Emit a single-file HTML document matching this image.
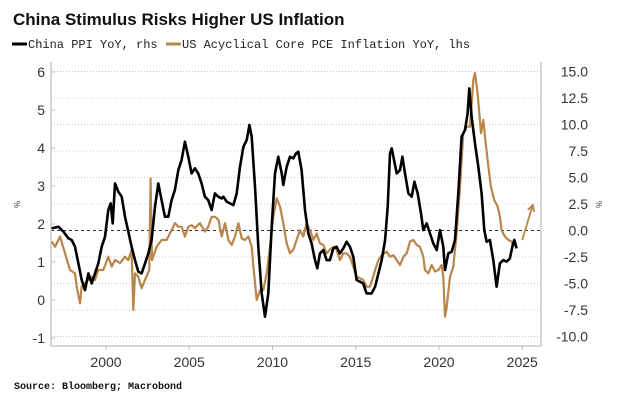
<!DOCTYPE html>
<html><head><meta charset="utf-8"><style>
body{margin:0;background:#fff;}
svg{display:block;font-family:"Liberation Sans",sans-serif;}
</style></head><body>
<svg id="chart" width="622" height="406" viewBox="0 0 622 406" xmlns="http://www.w3.org/2000/svg">
<text x="13" y="25" font-size="17" font-weight="bold" fill="#111">China Stimulus Risks Higher US Inflation</text>
<g font-family="'Liberation Mono',monospace" font-size="12" fill="#222">
 <g><line x1="12" y1="44" x2="27" y2="44" stroke="#000" stroke-width="3"/><text x="28" y="48">China PPI YoY, rhs</text></g>
 <g><line x1="166" y1="44" x2="181" y2="44" stroke="#b8864b" stroke-width="3"/><text x="182" y="48">US Acyclical Core PCE Inflation YoY, lhs</text></g>
</g>
<g id="grid"></g>
<g id="axes"></g>
<g id="series"></g>
<text x="0" y="0" font-size="8" fill="#444" transform="translate(20,208) rotate(-90)">%</text>
<text x="0" y="0" font-size="8" fill="#444" transform="translate(602,208) rotate(-90)">%</text>
<text x="14" y="389" font-family="'Liberation Mono',monospace" font-size="10" font-weight="bold" fill="#111">Source: Bloomberg; Macrobond</text>
</svg>
<script>
const xTicks=[2000,2005,2010,2015,2020,2025];
const leftTicks=[6,5,4,3,2,1,0,-1];
const rightTicks=[15,12.5,10,7.5,5,2.5,0,-2.5,-5,-7.5,-10];
const ppiYears=[1996.74,1997.14,1997.44,1997.74,1997.94,1998.14,1998.34,1998.54,1998.74,1998.94,1999.14,1999.34,1999.54,1999.74,1999.94,2000.14,2000.28,2000.4,2000.54,2000.74,2000.94,2001.14,2001.34,2001.54,2001.74,2001.94,2002.14,2002.34,2002.54,2002.74,2002.94,2003.14,2003.34,2003.54,2003.74,2003.94,2004.14,2004.34,2004.54,2004.74,2004.94,2005.14,2005.34,2005.54,2005.74,2005.94,2006.14,2006.34,2006.54,2006.74,
2006.95,2007.05,2007.25,2007.45,2007.65,2007.85,2008.05,2008.25,2008.45,2008.61,2008.75,2008.95,2009.15,2009.35,2009.55,2009.75,2009.95,2010.15,2010.35,2010.55,2010.65,2010.85,2011.05,2011.25,2011.41,2011.55,2011.75,2011.95,2012.15,2012.35,2012.55,2012.69,2012.85,2013.05,2013.25,2013.45,2013.65,2013.85,2014.05,2014.25,2014.45,2014.65,2014.85,2015.05,2015.25,2015.45,2015.65,2015.95,
2016.16,2016.36,2016.56,2016.76,2016.92,2017.06,2017.16,2017.26,2017.46,2017.66,2017.8,2017.96,2018.16,2018.36,2018.52,2018.72,2018.92,2019.06,2019.26,2019.46,2019.66,2019.86,2020.06,2020.26,2020.36,2020.56,2020.76,2020.96,2021.16,2021.36,2021.56,2021.72,2021.82,2021.96,2022.16,2022.36,2022.56,2022.72,2022.86,2023.06,2023.26,2023.46,2023.66,2023.86,2024.06,2024.26,2024.4,2024.52,2024.66];
const ppiValues=[0.2,0.36,-0.11,-0.74,-0.9,-1.53,-3.1,-4.67,-5.62,-4.05,-4.99,-4.05,-3.1,-1.53,-0.59,1.93,2.56,0.67,4.44,3.66,3.19,1.3,-0.11,-1.53,-2.79,-3.89,-4.05,-3.1,-2.16,-0.9,2.24,4.44,2.87,1.3,1.3,2.87,3.82,5.7,6.65,8.38,6.96,5.39,5.86,5.39,4.44,3.19,2.87,1.93,3.5,3.19,
3.03,3.19,2.72,2.56,2.4,3.5,6.02,7.9,8.53,9.95,8.85,4.13,-1.53,-5.93,-8.13,-5.93,0.36,5.39,6.96,5.39,4.29,6.02,6.96,6.8,7.27,7.43,5.7,1.93,-0.27,-1.22,-2.79,-3.57,-2.16,-1.84,-2.79,-2.79,-1.69,-1.53,-2.16,-1.69,-1.06,-1.53,-2.47,-4.67,-4.83,-4.99,-5.93,-5.93,
-5.3,-4.05,-2.79,-0.9,2.24,7.27,7.75,6.96,5.39,5.7,6.96,5.39,3.5,3.19,4.6,3.5,1.61,0.04,0.67,-0.27,-1.22,-1.84,0.04,-1.53,-3.73,-2.16,-2.0,-0.9,3.5,8.85,9.48,11.05,13.41,10.74,8.22,6.02,3.5,0.04,-1.06,-0.9,-2.79,-5.3,-3.1,-2.79,-2.94,-2.63,-1.53,-0.9,-1.69];
const pceYears=[1996.74,1996.94,1997.24,1997.54,1997.84,1998.14,1998.24,1998.44,1998.54,1998.74,1998.94,1999.14,1999.34,1999.54,1999.84,2000.14,2000.34,2000.54,2000.84,2001.14,2001.34,2001.54,2001.64,2001.74,2001.94,2002.14,2002.34,2002.6,2002.68,2002.76,2003.04,2003.34,2003.64,2003.94,2004.14,2004.34,2004.54,2004.74,2004.94,2005.14,2005.34,2005.64,2005.94,2006.14,
2006.35,2006.55,2006.75,2006.95,2007.15,2007.35,2007.55,2007.75,2007.95,2008.15,2008.35,2008.55,2008.75,2008.85,2009.05,2009.25,2009.45,2009.65,2009.85,2010.05,2010.25,2010.45,2010.65,2010.85,2011.05,2011.25,2011.45,2011.65,2011.85,2012.05,2012.25,2012.45,2012.65,2012.85,2013.05,2013.25,2013.45,2013.65,2013.85,2014.05,2014.25,2014.45,2014.65,2014.85,2015.05,2015.25,2015.45,2015.65,2015.85,2016.05,
2016.16,2016.36,2016.56,2016.86,2017.06,2017.26,2017.46,2017.66,2017.86,2018.06,2018.26,2018.46,2018.66,2018.86,2019.06,2019.16,2019.36,2019.56,2019.76,2019.96,2020.16,2020.26,2020.36,2020.46,2020.66,2020.86,2021.06,2021.26,2021.46,2021.66,2021.86,2022.06,2022.16,2022.32,2022.52,2022.66,2022.76,2022.92,2023.12,2023.32,2023.52,2023.66,2023.76,2023.96,2024.16,2024.36,2024.46];
const pceValues=[1.54,1.4,1.67,1.23,0.79,0.7,0.35,-0.09,0.35,0.44,0.53,0.61,0.53,0.79,0.79,1.14,0.88,1.05,0.97,1.14,1.05,1.32,-0.26,0.7,0.61,0.31,0.53,0.79,3.2,1.05,1.4,1.58,1.58,1.84,2.02,1.93,1.93,1.67,1.93,1.97,1.89,2.02,1.8,1.93,
2.19,2.19,2.11,1.67,2.02,1.58,1.45,1.67,2.02,1.62,1.58,1.67,1.4,0.88,0,0.26,0.26,0.7,1.4,2.19,2.68,2.46,2.02,1.49,1.23,1.32,1.58,1.84,1.67,2.02,1.84,1.58,1.75,1.49,1.45,1.23,1.32,1.4,1.32,1.05,1.23,1.23,1.14,0.88,0.61,0.57,0.53,0.35,0.35,0.61,
0.79,1.05,1.18,1.27,1.14,1.18,1.05,0.92,1.14,1.23,1.54,1.58,1.45,1.4,1.14,0.79,0.7,0.92,0.75,0.79,0.92,0.61,-0.44,-0.18,0.61,0.88,1.75,2.98,4.39,4.56,4.56,5.79,5.97,5.44,4.39,4.74,4.3,3.68,2.98,2.63,2.46,2.19,1.84,1.67,1.58,1.54,1.4];
const arrowYears=[2025.0,2025.63];
const arrowValues=[1.58,2.5];

const NS="http://www.w3.org/2000/svg";
const X0=51,X1=541,Y0=62,Y1=346;
const xS=yr=>106+(yr-2000)*16.65;
const yL=v=>72+(6-v)*38;
const yR=v=>230.5-v*10.6;
function mk(tag,attrs,parent,txt){const e=document.createElementNS(NS,tag);for(const k in attrs)e.setAttribute(k,attrs[k]);if(txt!==undefined)e.textContent=txt;parent.appendChild(e);return e;}
const grid=document.getElementById('grid'),axes=document.getElementById('axes'),series=document.getElementById('series');
rightTicks.forEach(t=>{
 const y=yR(t);
 const g=mk('line',{x1:X0,x2:X1,y1:y,y2:y,stroke:t===0?'#333':'#c8c8c8','stroke-width':t===0?1:1,'stroke-dasharray':t===0?'3,3':'1,2'},grid);
 
 
 const l=mk('text',{x:588,y:y+5,'text-anchor':'end','font-size':14,fill:'#333'},axes,t.toFixed(1));
 
 
});
leftTicks.forEach(t=>{
 const y=yL(t);
 const l=mk('text',{x:45,y:y+5,'text-anchor':'end','font-size':14,fill:'#333'},axes,String(t));
 
 
 mk('line',{x1:X0,x2:X0+4,y1:y,y2:y,stroke:'#bbb'},axes);
});
xTicks.forEach(t=>{
 const x=xS(t);
 mk('line',{x1:x,x2:x,y1:Y1,y2:Y1+4,stroke:'#bbb'},axes);
 const l=mk('text',{x:x,y:367,'text-anchor':'middle','font-size':14,fill:'#333'},axes,String(t));
 
 
});
const fr=mk('path',{d:`M${X0},${Y0}V${Y1}H${X1}V${Y0}`,fill:'none',stroke:'#c8c8c8','stroke-width':1.5},axes);


const pPce=mk('polyline',{points:pceYears.map((y,i)=>xS(y).toFixed(1)+','+yL(pceValues[i]).toFixed(1)).join(' '),fill:'none',stroke:'#b8864b','stroke-width':2.2,'stroke-linejoin':'round'},series);


const pPpi=mk('polyline',{points:ppiYears.map((y,i)=>xS(y).toFixed(1)+','+yR(ppiValues[i]).toFixed(1)).join(' '),fill:'none',stroke:'#000','stroke-width':2.6,'stroke-linejoin':'round'},series);


const ax1=xS(arrowYears[0]),ay1=yL(arrowValues[0]),ax2=xS(arrowYears[1]),ay2=yL(arrowValues[1]);
const ang=Math.atan2(ay2-ay1,ax2-ax1);
const h=7;
const a1=[ax2-h*Math.cos(ang-0.5),ay2-h*Math.sin(ang-0.5)],a2=[ax2-h*Math.cos(ang+0.5),ay2-h*Math.sin(ang+0.5)];
const ar=mk('path',{d:`M${ax1},${ay1}L${ax2},${ay2}M${a1[0]},${a1[1]}L${ax2},${ay2}L${a2[0]},${a2[1]}`,fill:'none',stroke:'#b8864b','stroke-width':1.8},series);


</script>
</body></html>
